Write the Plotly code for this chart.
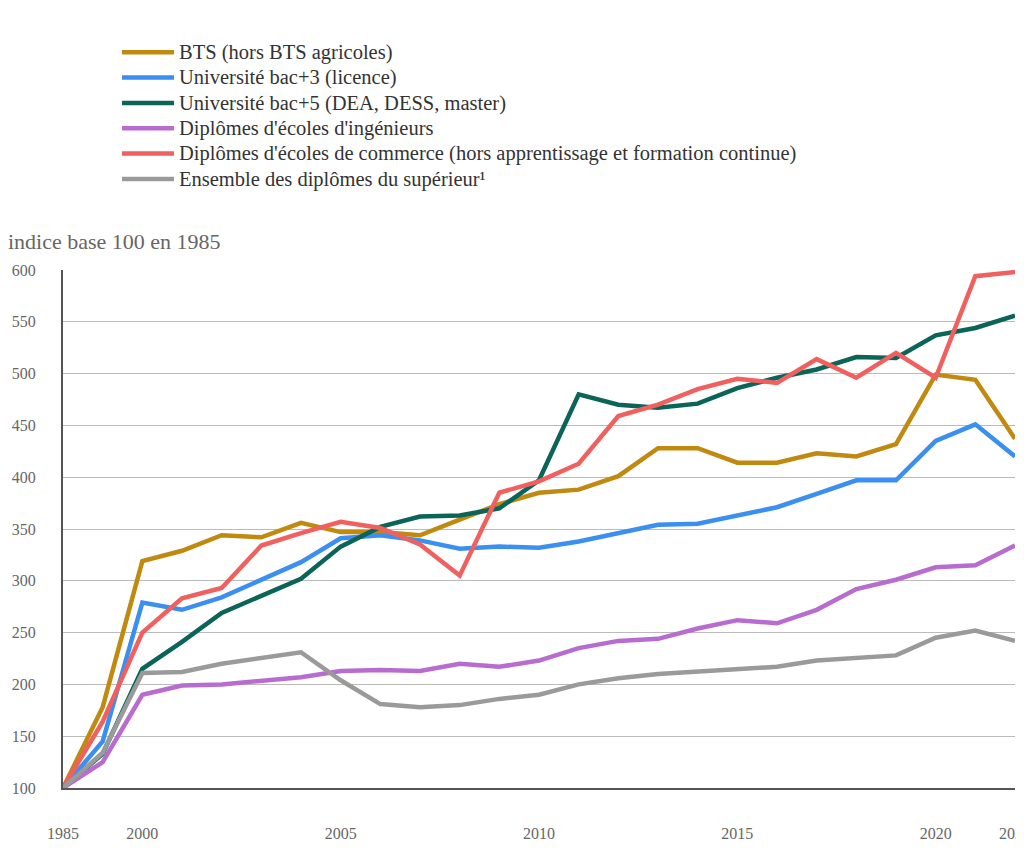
import plotly.graph_objects as go

years = ["1985", "1990"] + [str(y) for y in range(2000, 2023)]

bts = [100, 178, 319, 329, 344, 342, 356, 347, 347, 344, 359, 374, 385, 388, 401, 428, 428, 414, 414, 423, 420, 432, 499, 494, 437]
licence = [100, 145, 279, 272, 284, 301, 318, 341, 344, 339, 331, 333, 332, 338, 346, 354, 355, 363, 371, 384, 397, 397, 435, 451, 420]
master = [100, 133, 215, 241, 269, 285, 302, 333, 352, 362, 363, 370, 397, 480, 470, 467, 471, 486, 496, 504, 516, 515, 537, 544, 556]
ingenieurs = [100, 125, 190, 199, 200, 203, 207, 213, 214, 213, 220, 217, 223, 235, 242, 244, 254, 262, 259, 272, 292, 301, 313, 315, 334]
commerce = [100, 164, 250, 283, 293, 334, 346, 357, 351, 335, 305, 385, 396, 413, 459, 470, 485, 495, 491, 514, 496, 520, 496, 594, 598]
ensemble = [100, 134, 211, 212, 220, 226, 231, 204, 181, 178, 180, 186, 190, 200, 206, 210, 212, 215, 217, 223, 226, 228, 245, 252, 242]

series_names = [
    "BTS (hors BTS agricoles)",
    "Université bac+3 (licence)",
    "Université bac+5 (DEA, DESS, master)",
    "Diplômes d'écoles d'ingénieurs",
    "Diplômes d'écoles de commerce (hors apprentissage et formation continue)",
    "Ensemble des diplômes du supérieur¹",
]
series_values = [bts, licence, master, ingenieurs, commerce, ensemble]
colors = ["#BF8A0F", "#3B8FF0", "#0A6458", "#B86CCF", "#F0605F", "#9A9A9A"]

tick_years = ["1985", "2000", "2005", "2010", "2015", "2020", "2022"]
y_ticks = [100, 150, 200, 250, 300, 350, 400, 450, 500, 550, 600]

FONT = "Liberation Serif"
W, H = 1008, 837

fig = go.Figure()
for name, vals, col in zip(series_names, series_values, colors):
    fig.add_trace(go.Scatter(
        x=years, y=vals, mode="lines",
        name='<span style="font-size:20.5px">' + name + "</span>",
        line=dict(color=col, width=4.5),
    ))

fig.update_layout(
    width=W, height=H,
    margin=dict(l=55, r=1, t=262, b=57, autoexpand=False),
    paper_bgcolor="white", plot_bgcolor="white",
    font=dict(family=FONT, color="#555555"),
    showlegend=True,
    legend=dict(
        xref="container", yref="container",
        x=109 / W, y=1 - 26.5 / H,
        xanchor="left", yanchor="top",
        font=dict(family=FONT, size=17.2, color="#333333"),
        itemwidth=52,
        bgcolor="rgba(0,0,0,0)",
        tracegroupgap=0,
    ),
    title=dict(
        text="indice base 100 en 1985",
        xref="container", yref="container",
        x=0, y=1 - 233 / H,
        xanchor="left", yanchor="middle",
        font=dict(family=FONT, size=22, color="#666666"),
    ),
)

fig.update_xaxes(
    type="category",
    categoryorder="array", categoryarray=years,
    range=[0, len(years) - 1],
    tickmode="array", tickvals=tick_years, ticktext=tick_years,
    tickangle=0, automargin=False, ticklabeloverflow="allow",
    showgrid=False,
    showline=True, linecolor="#555555", linewidth=2,
    ticks="", ticklabelstandoff=30,
    tickfont=dict(family=FONT, size=16, color="#666666"),
    zeroline=False,
)
fig.update_yaxes(
    range=[100, 600], automargin=False,
    tickmode="array", tickvals=y_ticks,
    showgrid=True, gridcolor="#BBBBBB", gridwidth=1.2,
    showline=True, linecolor="#555555", linewidth=2,
    ticks="", ticklabelstandoff=22,
    tickfont=dict(family=FONT, size=16, color="#666666"),
    zeroline=False,
)

fig.write_html("out.html")
